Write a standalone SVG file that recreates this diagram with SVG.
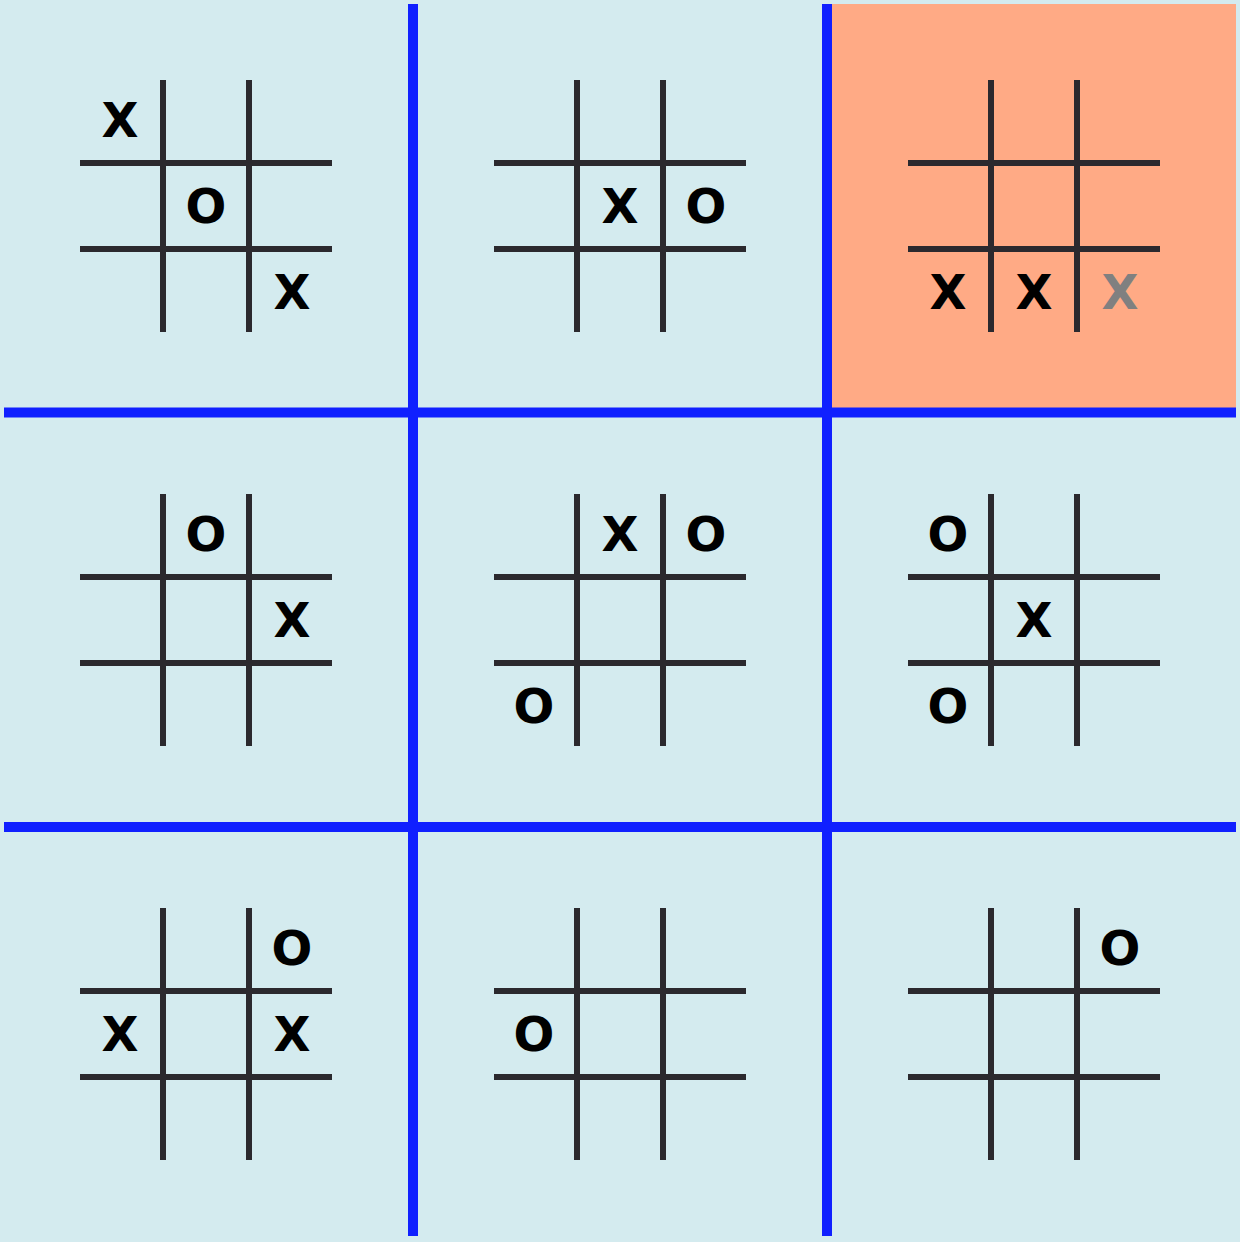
<svg xmlns="http://www.w3.org/2000/svg" width="1240" height="1242" viewBox="0 0 1240 1242">
<style>
.g line{stroke:#2b292e;stroke-width:6}
.b{stroke:#1020ff;stroke-width:10}
text{font-family:"DejaVu Sans",sans-serif;font-weight:bold;font-size:48px;text-anchor:middle;fill:#000}
.gr{fill:#808080}
</style>
<defs>
<g id="grid" class="g">
<line x1="163" y1="80" x2="163" y2="332"/>
<line x1="249" y1="80" x2="249" y2="332"/>
<line x1="80" y1="163" x2="332" y2="163"/>
<line x1="80" y1="249" x2="332" y2="249"/>
</g>
</defs>
<rect width="1240" height="1242" fill="#d4ebef"/>
<rect id="highlight" x="827" y="4" width="409" height="408" fill="#ffaa85"/>
<g id="cell-0-0">
<use href="#grid"/>
<text x="120" y="137">X</text><text x="206" y="223">O</text><text x="292" y="309">X</text>
</g>
<g id="cell-1-0" transform="translate(414,0)">
<use href="#grid"/>
<text x="206" y="223">X</text><text x="292" y="223">O</text>
</g>
<g id="cell-2-0" transform="translate(828,0)">
<use href="#grid"/>
<text x="120" y="309">X</text><text x="206" y="309">X</text><text x="292" y="309" class="gr">X</text>
</g>
<g id="cell-0-1" transform="translate(0,414)">
<use href="#grid"/>
<text x="206" y="137">O</text><text x="292" y="223">X</text>
</g>
<g id="cell-1-1" transform="translate(414,414)">
<use href="#grid"/>
<text x="206" y="137">X</text><text x="292" y="137">O</text><text x="120" y="309">O</text>
</g>
<g id="cell-2-1" transform="translate(828,414)">
<use href="#grid"/>
<text x="120" y="137">O</text><text x="206" y="223">X</text><text x="120" y="309">O</text>
</g>
<g id="cell-0-2" transform="translate(0,828)">
<use href="#grid"/>
<text x="292" y="137">O</text><text x="120" y="223">X</text><text x="292" y="223">X</text>
</g>
<g id="cell-1-2" transform="translate(414,828)">
<use href="#grid"/>
<text x="120" y="223">O</text>
</g>
<g id="cell-2-2" transform="translate(828,828)">
<use href="#grid"/>
<text x="292" y="137">O</text>
</g>
<g id="board-lines">
<line class="b" x1="413" y1="4" x2="413" y2="1236"/>
<line class="b" x1="827" y1="4" x2="827" y2="1236"/>
<line class="b" x1="4" y1="412.5" x2="1236" y2="412.5"/>
<line class="b" x1="4" y1="827" x2="1236" y2="827"/>
</g>
</svg>
